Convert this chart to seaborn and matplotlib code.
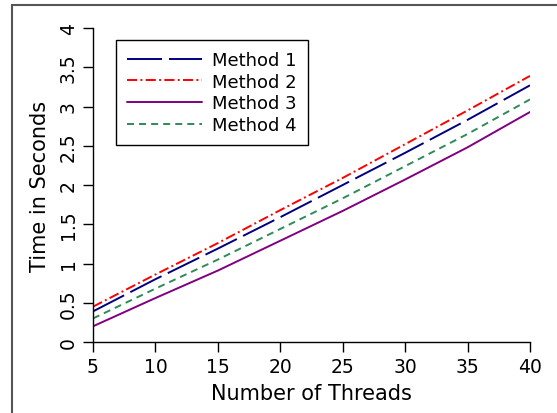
import matplotlib
matplotlib.use("Agg")
import matplotlib.pyplot as plt
from matplotlib.patches import Rectangle
import seaborn as sns
import pandas as pd

# values
threads = [5, 10, 15, 20, 25, 30, 35, 40]
method1 = [0.39, 0.80, 1.19, 1.59, 2.00, 2.41, 2.83, 3.27]
method2 = [0.45, 0.86, 1.26, 1.68, 2.09, 2.52, 2.95, 3.39]
method3 = [0.20, 0.56, 0.91, 1.29, 1.67, 2.07, 2.48, 2.93]
method4 = [0.30, 0.68, 1.05, 1.44, 1.83, 2.24, 2.65, 3.09]
names = ["Method 1", "Method 2", "Method 3", "Method 4"]
x_ticks = [5, 10, 15, 20, 25, 30, 35, 40]
y_ticks = [0, 0.5, 1, 1.5, 2, 2.5, 3, 3.5, 4]
y_ticklabels = ["0", "0.5", "1", "1.5", "2", "2.5", "3", "3.5", "4"]

rows = []
for name, vals in zip(names, [method1, method2, method3, method4]):
    for t, v in zip(threads, vals):
        rows.append({"threads": t, "time": v, "method": name})
data = pd.DataFrame(rows)

sns.set_style("ticks")
plt.rcParams['font.family'] = ['DejaVu Sans']
plt.rcParams['text.color'] = 'black'
plt.rcParams['axes.labelcolor'] = 'black'
plt.rcParams['xtick.color'] = 'black'
plt.rcParams['ytick.color'] = 'black'

colors = {"Method 1": "#00007f", "Method 2": "#ff0000",
          "Method 3": "#800080", "Method 4": "#2e8b57"}
dashes = {"Method 1": (18, 3.6), "Method 2": (5.2, 1.7, 1, 1.7),
          "Method 3": "", "Method 4": (3.6, 2.6)}

fig = plt.figure(figsize=(5.57, 4.14), dpi=100)
ax = fig.add_axes([93 / 557, 71 / 414, 437 / 557, 314 / 414])

sns.lineplot(data=data, x="threads", y="time", hue="method", style="method",
             palette=colors, dashes=dashes, linewidth=1.4, ax=ax)

ax.set_xlim(5, 40)
ax.set_ylim(0, 4)
ax.set_xticks(x_ticks)
ax.set_yticks(y_ticks)
ax.set_yticklabels(y_ticklabels, rotation=90, va="center")
ax.tick_params(axis="both", labelsize=13.5, length=7, width=1,
               color="black", labelcolor="black", pad=4)
ax.set_xlabel("Number of Threads", fontsize=15, labelpad=5, color="black")
ax.set_ylabel("Time in Seconds", fontsize=15, labelpad=6, color="black")
sns.despine(ax=ax)
for s in ["left", "bottom"]:
    ax.spines[s].set_color("black")
    ax.spines[s].set_linewidth(1)

sns.move_legend(ax, "upper left", bbox_to_anchor=(23 / 437, 302 / 314),
                title=None, fontsize=13, frameon=True, fancybox=False,
                edgecolor="black", framealpha=1, borderaxespad=0,
                handlelength=4.15, labelspacing=0.2, borderpad=0.62,
                handletextpad=0.55)
leg = ax.get_legend()
leg.get_frame().set_linewidth(1)
for t in leg.get_texts():
    t.set_color("black")

# grey frame around the figure (right/bottom edges fall outside the crop)
fig.patches.append(Rectangle((12 / 557, -0.1), 1.0, 408 / 414 + 0.1,
                             transform=fig.transFigure, fill=False,
                             edgecolor="#555555", linewidth=1.5))

fig.savefig("out.png", dpi=100)
